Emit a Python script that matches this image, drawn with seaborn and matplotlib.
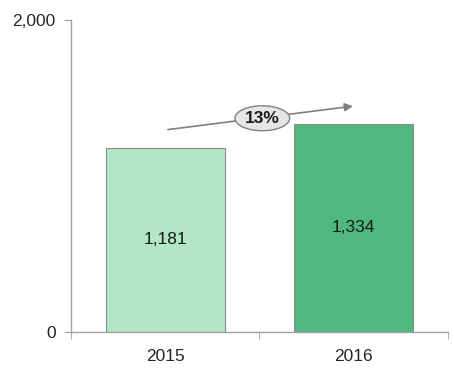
import matplotlib
matplotlib.use("Agg")
import matplotlib.pyplot as plt
import seaborn as sns
import pandas as pd
from matplotlib.patches import Ellipse

years = ["2015", "2016"]
values = [1181, 1334]
value_labels = ["1,181", "1,334"]
growth_label = "13%"
bar_colors = ["#b3e6c4", "#4fb87f"]

sns.set_style("white")
plt.rcParams['font.family'] = ['Liberation Sans', 'DejaVu Sans']

df = pd.DataFrame({"year": years, "value": values})

fig = plt.figure(figsize=(4.54, 3.78), dpi=100)
ax = fig.add_axes([0.156, 0.122, 0.831, 0.825])

sns.barplot(data=df, x="year", y="value", hue="year", palette=bar_colors,
            saturation=1, width=0.63, edgecolor="#8c8c8c", linewidth=0.8,
            legend=False, ax=ax)

ax.set_xlim(-0.5, 1.5)
ax.set_ylim(0, 2000)
ax.set_yticks([0, 2000])
ax.set_yticklabels(["0", "2,000"], fontsize=12.5)
ax.set_xticks([0, 1])
ax.set_xticklabels(years, fontsize=12.5)
ax.set_xticks([-0.5, 0.5, 1.5], minor=True)
ax.tick_params(axis="x", which="major", length=0, pad=12)
ax.tick_params(axis="x", which="minor", length=5, color="#a0a0a0", direction="out", bottom=True)
ax.tick_params(axis="y", length=5, color="#a0a0a0", direction="out", left=True, pad=6)
ax.set_xlabel("")
ax.set_ylabel("")
for s in ["top", "right"]:
    ax.spines[s].set_visible(False)
for s in ["left", "bottom"]:
    ax.spines[s].set_color("#a0a0a0")
    ax.spines[s].set_linewidth(1.0)

for i, (v, lab) in enumerate(zip(values, value_labels)):
    ax.text(i, v / 2, lab, ha="center", va="center", fontsize=12.5, color="#1a1a1a")

# growth arrow
ax.annotate("", xy=(1.01, 1450), xytext=(0.0, 1295),
            arrowprops=dict(arrowstyle="-|>", color="#808080", lw=1.2, mutation_scale=12))
ax.add_patch(Ellipse((0.515, 1370), 0.29, 160, facecolor="#e6e6e6",
                     edgecolor="#808080", lw=1.0, zorder=5))
ax.text(0.515, 1370, growth_label, ha="center", va="center", fontsize=12.5,
        fontweight="bold", color="#1a1a1a", zorder=6)

fig.savefig("out.png", dpi=100)
